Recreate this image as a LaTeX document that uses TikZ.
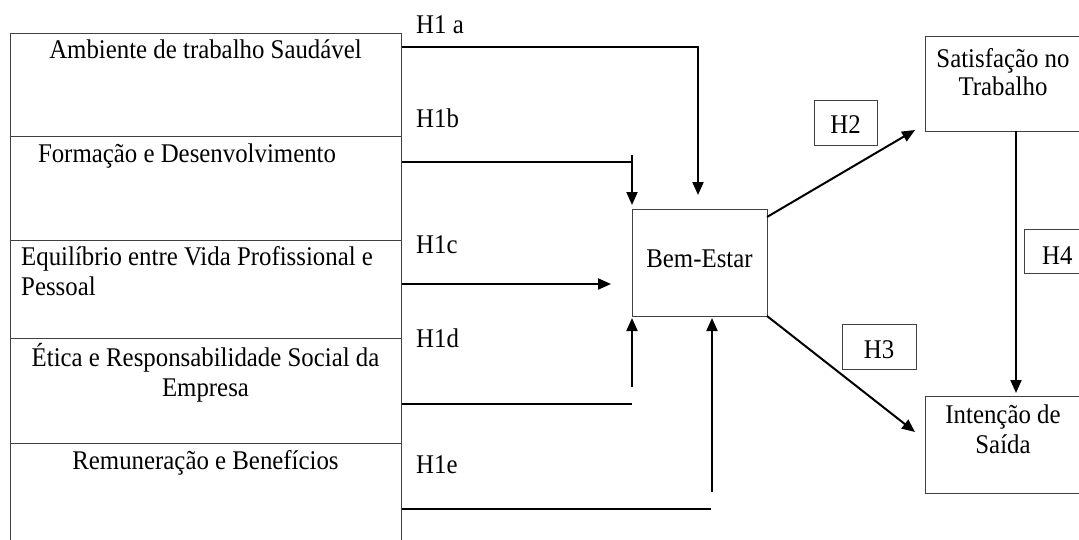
\documentclass[tikz,border=0pt]{standalone}
\usepackage{fontspec}
\setmainfont{Liberation Serif}[FakeStretch=0.92]
\usetikzlibrary{arrows.meta}
\begin{document}
\begin{tikzpicture}[x=1pt,y=-1pt,
  box/.style={draw=black!75,line width=0.9pt,rectangle,inner sep=0pt,anchor=north west},
  txt/.style={font=\fontsize{27}{30}\selectfont,inner sep=0pt,anchor=base},
  conn/.style={line width=2pt,black},
  arr/.style={conn,-{Triangle[length=13pt,width=11pt]}}]
\useasboundingbox (0,0) rectangle (1079,539);
\clip (0,0) rectangle (1079,539);
% left column cells
\node[box,minimum width=391pt,minimum height=103pt] (c1) at (10,33) {};
\node[box,minimum width=391pt,minimum height=104pt] (c2) at (10,136) {};
\node[box,minimum width=391pt,minimum height=98pt] (c3) at (10,240) {};
\node[box,minimum width=391pt,minimum height=105pt] (c4) at (10,338) {};
\node[box,minimum width=391pt,minimum height=130pt] (c5) at (10,443) {};
\node[txt] (t1) at (205.5,58) {Ambiente de trabalho Saudável};
\node[txt] (t2) at (187,162) {Formação e Desenvolvimento};
\node[txt,anchor=base west] (t3a) at (21,265) {Equilíbrio entre Vida Profissional e};
\node[txt,anchor=base west] (t3b) at (21,295) {Pessoal};
\node[txt] (t4a) at (205.5,366) {Ética e Responsabilidade Social da};
\node[txt] (t4b) at (205.5,396) {Empresa};
\node[txt] (t5) at (205.5,469) {Remuneração e Benefícios};
% central and right boxes
\node[box,minimum width=135pt,minimum height=107pt] (be) at (632,209) {};
\node[txt] (tbe) at (699.5,267) {Bem-Estar};
\node[box,minimum width=180pt,minimum height=95pt] (sat) at (925,36) {};
\node[txt] (tsa) at (1003,67) {Satisfação no};
\node[txt] (tsb) at (1003,95) {Trabalho};
\node[box,minimum width=180pt,minimum height=97pt] (int) at (925,396) {};
\node[txt] (tia) at (1003,423) {Intenção de};
\node[txt] (tib) at (1003,453) {Saída};
% hypothesis label boxes
\node[box,minimum width=63pt,minimum height=45pt] (h2) at (814,100) {};
\node[txt] (th2) at (845.5,133) {H2};
\node[box,minimum width=74pt,minimum height=45pt] (h3) at (842,324) {};
\node[txt] (th3) at (879,358) {H3};
\node[box,minimum width=80pt,minimum height=44pt] (h4) at (1024,229) {};
\node[txt,anchor=base west] (th4) at (1042,264) {H4};
% H1 labels
\node[txt,anchor=base west] (l1a) at (416,33) {H1 a};
\node[txt,anchor=base west] (l1b) at (416,127) {H1b};
\node[txt,anchor=base west] (l1c) at (416,253) {H1c};
\node[txt,anchor=base west] (l1d) at (416,347) {H1d};
\node[txt,anchor=base west] (l1e) at (416,473) {H1e};
% connector coordinates
\coordinate (a1s) at (c1.east |- 0,47);
\coordinate (a1e) at (698,195);
\coordinate (b1s) at (c2.east |- 0,162);
\coordinate (b1c) at (632,162);
\coordinate (b1t) at (632,155);
\coordinate (b1e) at (632,205);
\coordinate (c1s) at (c3.east |- 0,284);
\coordinate (c1e) at (611,284);
\coordinate (d1s) at (c4.east |- 0,404);
\coordinate (d1c) at (632,404);
\coordinate (d1t) at (632,387);
\coordinate (d1e) at (632,318);
\coordinate (e1s) at (c5.east |- 0,509);
\coordinate (e1c) at (711,509);
\coordinate (e1t) at (712,492);
\coordinate (e1e) at (712,318);
\coordinate (h2s) at (767,217);
\coordinate (h2e) at (915,130);
\coordinate (h3s) at (767,316);
\coordinate (h3e) at (915,432);
\coordinate (h4s) at (1016,131);
\coordinate (h4e) at (1016,393);
% connectors
\draw[arr] (a1s) -| (a1e);
\draw[conn] (b1s) -- (b1c);
\draw[arr] (b1t) -- (b1e);
\draw[arr] (c1s) -- (c1e);
\draw[conn] (d1s) -- (d1c);
\draw[arr] (d1t) -- (d1e);
\draw[conn] (e1s) -- (e1c);
\draw[arr] (e1t) -- (e1e);
\draw[arr] (h2s) -- (h2e);
\draw[arr] (h3s) -- (h3e);
\draw[arr] (h4s) -- (h4e);
\end{tikzpicture}
\end{document}
